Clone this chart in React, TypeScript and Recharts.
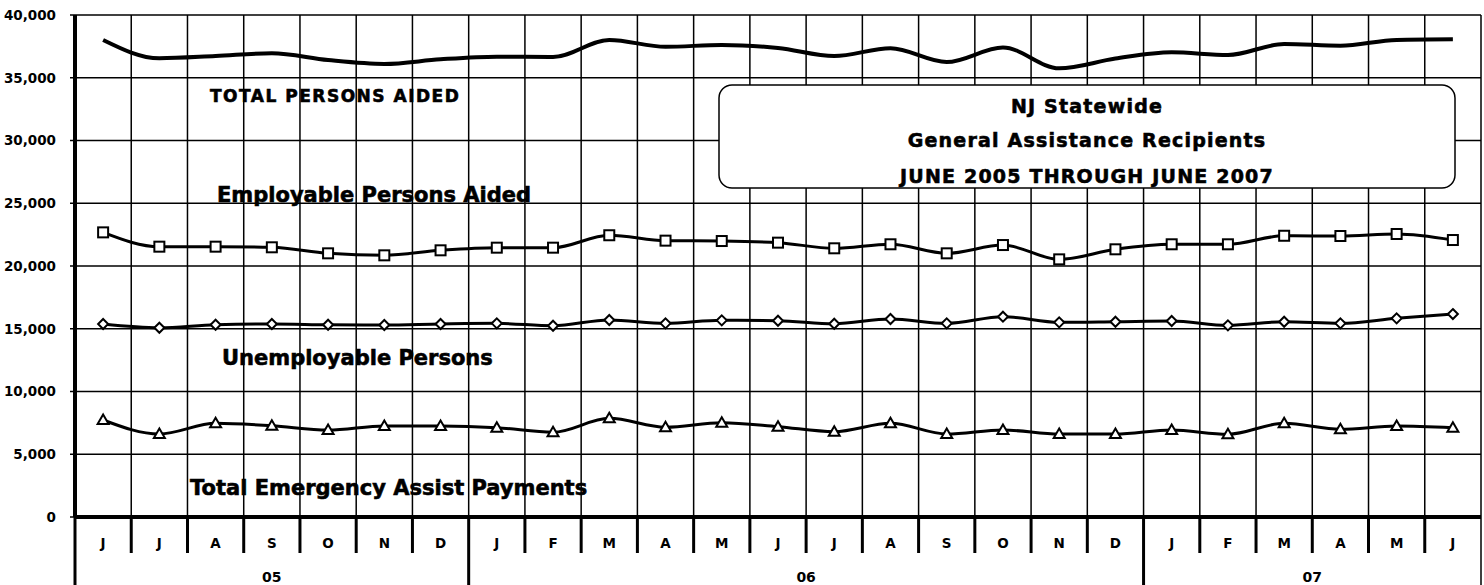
import { CartesianGrid, Line, LineChart, XAxis, YAxis } from "recharts"

const months = ["J", "J", "A", "S", "O", "N", "D", "J", "F", "M", "A", "M", "J", "J", "A", "S", "O", "N", "D", "J", "F", "M", "A", "M", "J"]
const yearLabels = ["05", "06", "07"]
const yearMids = [3, 12.5, 21.5]
const yearEdges = [-0.5, 6.5, 18.5, 24.5]
const yTicks = [0, 5000, 10000, 15000, 20000, 25000, 30000, 35000, 40000]

const totalAided = [38010, 36550, 36730, 36950, 36410, 36100, 36470, 36680, 36650, 38010, 37470, 37610, 37370, 36730, 37350, 36250, 37410, 35750, 36530, 37030, 36810, 37690, 37550, 38010, 38060]
const employable = [22680, 21540, 21540, 21490, 21010, 20850, 21250, 21460, 21460, 22450, 22020, 21990, 21860, 21410, 21730, 21010, 21670, 20530, 21330, 21730, 21730, 22410, 22390, 22550, 22070]
const unemployable = [15380, 15080, 15320, 15380, 15320, 15300, 15380, 15430, 15240, 15700, 15430, 15670, 15640, 15400, 15780, 15430, 15960, 15510, 15560, 15620, 15270, 15560, 15430, 15830, 16170]
const emergency = [7730, 6610, 7470, 7270, 6930, 7250, 7250, 7120, 6750, 7860, 7150, 7510, 7200, 6800, 7470, 6610, 6930, 6610, 6610, 6930, 6590, 7470, 6990, 7250, 7120]

const data = months.map((m, i) => ({
  i,
  m,
  total: totalAided[i],
  emp: employable[i],
  unemp: unemployable[i],
  emerg: emergency[i],
}))
const edges = months.map((_, i) => i - 0.5).concat(months.length - 0.5)
const monthIdx = months.map((_, i) => i)

const FONT = "'DejaVu Sans', sans-serif"

const SquareDot = (p: any) => (
  <rect key={`sq-${p.index}`} x={p.cx - 5} y={p.cy - 5} width={10} height={10} fill="#fff" stroke="#000" strokeWidth={2} />
)
const DiamondDot = (p: any) => (
  <polygon
    key={`dm-${p.index}`}
    points={`${p.cx},${p.cy - 5} ${p.cx + 5},${p.cy} ${p.cx},${p.cy + 5} ${p.cx - 5},${p.cy}`}
    fill="#fff"
    stroke="#000"
    strokeWidth={2}
  />
)
const TriangleDot = (p: any) => (
  <polygon
    key={`tr-${p.index}`}
    points={`${p.cx},${p.cy - 5.5} ${p.cx + 5.5},${p.cy + 4} ${p.cx - 5.5},${p.cy + 4}`}
    fill="#fff"
    stroke="#000"
    strokeWidth={2}
  />
)

// tick between months, longer where the year changes
const EdgeTick = ({ x, y, payload }: any) => {
  const isYear = yearEdges.includes(payload.value)
  const last = payload.value === yearEdges[yearEdges.length - 1]
  return (
    <line
      x1={x}
      x2={x}
      y1={y}
      y2={isYear ? y + 70 : y + 36}
      stroke="#000"
      strokeWidth={last ? 1.5 : 3}
    />
  )
}

const MonthTick = ({ x, y, payload }: any) => (
  <text x={x} y={y + 30} textAnchor="middle" fontFamily={FONT} fontWeight="bold" fontSize={13.5} fill="#000">
    {months[payload.value]}
  </text>
)

const YearTick = ({ x, y, index }: any) => (
  <text x={x} y={y + 29} textAnchor="middle" fontFamily={FONT} fontWeight="bold" fontSize={14} fill="#000">
    {yearLabels[index]}
  </text>
)

const label = { fontFamily: FONT, fontWeight: "bold" as const, fill: "#000" }
const heavy = { ...label, stroke: "#000", strokeWidth: 0.6 }

export default function App() {
  return (
    <div style={{ position: "absolute", left: 0, top: 0, width: 1484, height: 585, background: "#fff" }}>
      <LineChart width={1484} height={585} data={data} margin={{ top: 15, right: 3, left: 0, bottom: 0 }}>
        <CartesianGrid stroke="#000" strokeWidth={1.5} />
        <XAxis
          type="number"
          dataKey="i"
          domain={[-0.5, 24.5]}
          ticks={edges}
          interval={0}
          height={1}
          tickSize={0}
          tickMargin={0}
          tickLine={false}
          axisLine={{ stroke: "#000", strokeWidth: 4 }}
          tick={<EdgeTick />}
          allowDataOverflow
        />
        <XAxis
          xAxisId="m"
          type="number"
          dataKey="i"
          domain={[-0.5, 24.5]}
          ticks={monthIdx}
          interval={0}
          height={35}
          tickSize={0}
          tickMargin={0}
          tickLine={false}
          axisLine={false}
          tick={<MonthTick />}
          allowDataOverflow
        />
        <XAxis
          xAxisId="y"
          type="number"
          dataKey="i"
          domain={[-0.5, 24.5]}
          ticks={yearMids}
          interval={0}
          height={32}
          tickSize={0}
          tickMargin={0}
          tickLine={false}
          axisLine={false}
          tick={<YearTick />}
          allowDataOverflow
        />
        <YAxis
          width={75}
          domain={[0, 40000]}
          ticks={yTicks}
          interval={0}
          tickSize={5}
          tickMargin={14}
          tickFormatter={(v: number) => v.toLocaleString("en-US")}
          tick={{ ...label, fontSize: 13.5 }}
          tickLine={{ stroke: "#000", strokeWidth: 1.5 }}
          axisLine={{ stroke: "#000", strokeWidth: 4 }}
        />
        <Line type="monotone" dataKey="total" stroke="#000" strokeWidth={4} dot={false} isAnimationActive={false} />
        <Line type="monotone" dataKey="emp" stroke="#000" strokeWidth={3} dot={SquareDot} isAnimationActive={false} />
        <Line type="monotone" dataKey="unemp" stroke="#000" strokeWidth={3} dot={DiamondDot} isAnimationActive={false} />
        <Line type="monotone" dataKey="emerg" stroke="#000" strokeWidth={3} dot={TriangleDot} isAnimationActive={false} />
      </LineChart>
      <svg width={1484} height={585} style={{ position: "absolute", left: 0, top: 0, pointerEvents: "none" }}>
        <text x={210} y={102} fontSize={17} letterSpacing={1.5} {...heavy}>TOTAL PERSONS AIDED</text>
        <text x={217} y={202} fontSize={21} {...heavy}>Employable Persons Aided</text>
        <text x={222} y={365} fontSize={21} {...heavy}>Unemployable Persons</text>
        <text x={190} y={495} fontSize={21} {...heavy}>Total Emergency Assist Payments</text>
        <rect x={719} y={85} width={736} height={103} rx={13} ry={13} fill="#fff" stroke="#000" strokeWidth={1.5} />
        <text x={1087} y={113} fontSize={19} letterSpacing={1.2} textAnchor="middle" {...heavy}>NJ Statewide</text>
        <text x={1087} y={147} fontSize={19} letterSpacing={1.2} textAnchor="middle" {...heavy}>General Assistance Recipients</text>
        <text x={1087} y={183} fontSize={19} letterSpacing={1.2} textAnchor="middle" {...heavy}>JUNE 2005 THROUGH JUNE 2007</text>
      </svg>
    </div>
  )
}
